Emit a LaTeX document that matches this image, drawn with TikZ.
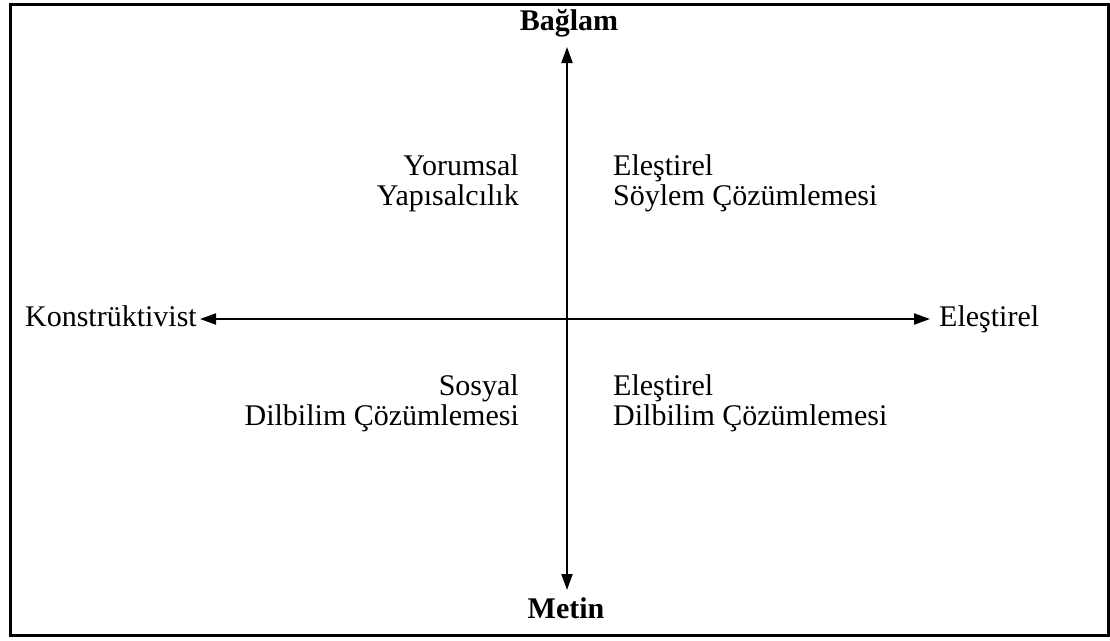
\documentclass[tikz,border=0pt]{standalone}
\usepackage{fontspec}
\setmainfont{Liberation Serif}
\usetikzlibrary{arrows.meta}
\tikzset{
  axis/.style={line width=2pt, -{Triangle[length=16pt,width=11pt]}},
  lbl/.style={inner sep=0pt, font=\fontsize{30}{30}\selectfont},
  boldlbl/.style={inner sep=0pt, font=\fontsize{30}{30}\selectfont\bfseries},
  quad/.style={inner sep=0pt, font=\fontsize{30}{30}\selectfont},
}
\begin{document}
\begin{tikzpicture}[x=1pt,y=-1pt]
\useasboundingbox (0,0) rectangle (1110,640);
\draw[line width=3pt] (10,4) rectangle (1108,635.5);
\coordinate (O) at (567,319);
\coordinate (top) at (567,47);
\coordinate (bot) at (567,590);
\coordinate (left) at (200,319);
\coordinate (right) at (930,319);
\draw[axis] (O) -- (top);
\draw[axis] (O) -- (bot);
\draw[axis] (O) -- (left);
\draw[axis] (O) -- (right);
\node[boldlbl, anchor=base] (baglam) at (569,30.5) {Bağlam};
\node[boldlbl, anchor=base] (metin) at (566,618) {Metin};
\node[lbl, anchor=base east] (konst) at (197,326) {Konstrüktivist};
\node[lbl, anchor=base west] (elest) at (939,326) {Eleştirel};
\node[quad, align=right, anchor=base east] (q1) at (519,205) {Yorumsal\\Yapısalcılık};
\node[quad, align=left, anchor=base west] (q2) at (613,205) {Eleştirel\\Söylem Çözümlemesi};
\node[quad, align=right, anchor=base east] (q3) at (519,425) {Sosyal\\Dilbilim Çözümlemesi};
\node[quad, align=left, anchor=base west] (q4) at (613,425) {Eleştirel\\Dilbilim Çözümlemesi};
\end{tikzpicture}
\end{document}
